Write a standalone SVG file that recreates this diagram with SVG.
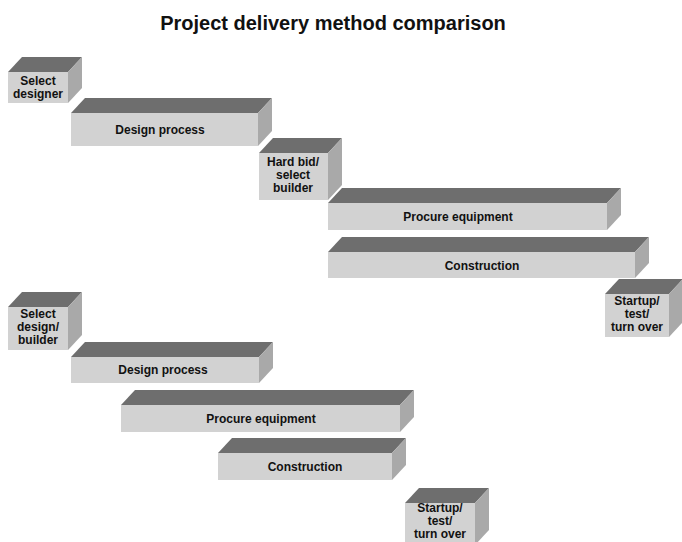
<svg xmlns="http://www.w3.org/2000/svg" width="682" height="542" viewBox="0 0 682 542">
<style>
.front{fill:#d2d2d2}
.top{fill:#6e6e6e}
.side{fill:#a9a9a9}
text{font-family:"Liberation Sans",Arial,sans-serif;font-weight:bold;fill:#111;text-anchor:middle}
.lbl{font-size:12px}
.title{font-size:20px}
</style>
<rect width="682" height="542" fill="#fff"/>
<text class="title" x="333" y="30">Project delivery method comparison</text>
<g id="connectors"/>
<g id="select-designer">
<polygon class="top" points="8,72 22,57 82,57 68,72"/>
<polygon class="side" points="68,72 82,57 82,88 68,103"/>
<rect class="front" x="8" y="72" width="60" height="31"/>
<text class="lbl" x="38" y="85">Select</text>
<text class="lbl" x="38" y="98">designer</text>
</g>
<g id="design-process-1">
<polygon class="top" points="71,113 85,98 272,98 258,113"/>
<polygon class="side" points="258,113 272,98 272,131 258,146"/>
<rect class="front" x="71" y="113" width="187" height="33"/>
<text class="lbl" x="160" y="134">Design process</text>
</g>
<g id="hard-bid">
<polygon class="top" points="259,153 273,138 342,138 328,153"/>
<polygon class="side" points="328,153 342,138 342,185 328,200"/>
<rect class="front" x="259" y="153" width="69" height="47"/>
<text class="lbl" x="293" y="166">Hard bid/</text>
<text class="lbl" x="293" y="179">select</text>
<text class="lbl" x="293" y="192">builder</text>
</g>
<g id="procure-1">
<polygon class="top" points="328,203 342,188 621,188 607,203"/>
<polygon class="side" points="607,203 621,188 621,215 607,230"/>
<rect class="front" x="328" y="203" width="279" height="27"/>
<text class="lbl" x="458" y="221">Procure equipment</text>
</g>
<g id="construction-1">
<polygon class="top" points="328,252 342,237 649,237 635,252"/>
<polygon class="side" points="635,252 649,237 649,263 635,278"/>
<rect class="front" x="328" y="252" width="307" height="26"/>
<text class="lbl" x="482" y="270">Construction</text>
</g>
<g id="startup-1">
<polygon class="top" points="605,294 619,279 683,279 669,294"/>
<polygon class="side" points="669,294 683,279 683,322 669,337"/>
<rect class="front" x="605" y="294" width="64" height="43"/>
<text class="lbl" x="637" y="305">Startup/</text>
<text class="lbl" x="637" y="318">test/</text>
<text class="lbl" x="637" y="331">turn over</text>
</g>
<g id="select-design-builder">
<polygon class="top" points="8,307 22,292 82,292 68,307"/>
<polygon class="side" points="68,307 82,292 82,335 68,350"/>
<rect class="front" x="8" y="307" width="60" height="43"/>
<text class="lbl" x="38" y="318">Select</text>
<text class="lbl" x="38" y="331">design/</text>
<text class="lbl" x="38" y="344">builder</text>
</g>
<g id="design-process-2">
<polygon class="top" points="71,357 85,342 273,342 259,357"/>
<polygon class="side" points="259,357 273,342 273,368 259,383"/>
<rect class="front" x="71" y="357" width="188" height="26"/>
<text class="lbl" x="163" y="374">Design process</text>
</g>
<g id="procure-2">
<polygon class="top" points="121,405 135,390 414,390 400,405"/>
<polygon class="side" points="400,405 414,390 414,417 400,432"/>
<rect class="front" x="121" y="405" width="279" height="27"/>
<text class="lbl" x="261" y="423">Procure equipment</text>
</g>
<g id="construction-2">
<polygon class="top" points="218,453 232,438 406,438 392,453"/>
<polygon class="side" points="392,453 406,438 406,465 392,480"/>
<rect class="front" x="218" y="453" width="174" height="27"/>
<text class="lbl" x="305" y="471">Construction</text>
</g>
<g id="startup-2">
<polygon class="top" points="405,503 419,488 489,488 475,503"/>
<polygon class="side" points="475,503 489,488 489,530 475,545"/>
<rect class="front" x="405" y="503" width="70" height="42"/>
<text class="lbl" x="440" y="512">Startup/</text>
<text class="lbl" x="440" y="525">test/</text>
<text class="lbl" x="440" y="538">turn over</text>
</g>
</svg>
